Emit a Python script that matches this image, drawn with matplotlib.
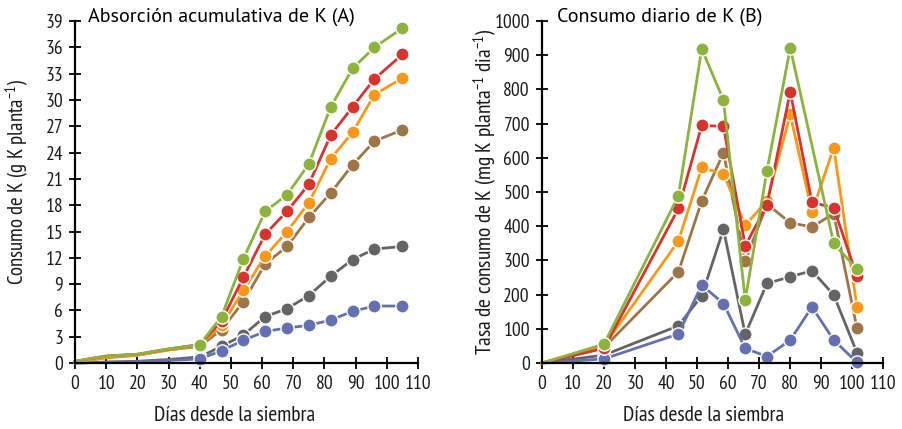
import matplotlib
matplotlib.use('Agg')
import matplotlib.pyplot as plt

# ---- Panel A data (cumulative K uptake, g K planta^-1) ----
days_a = [0, 10, 20, 30, 40, 47, 54, 61, 68, 75, 82, 89, 96, 105]
a_green = [0.2, 0.8, 1.0, 1.6, 2.1, 5.3, 11.9, 17.3, 19.2, 22.7, 29.2, 33.6, 36.0, 38.2]
a_red = [0.2, 0.8, 1.0, 1.6, 2.1, 4.8, 9.8, 14.7, 17.3, 20.4, 26.0, 29.2, 32.4, 35.2]
a_orange = [0.1, 0.6, 0.9, 1.5, 2.0, 4.3, 8.3, 12.2, 15.0, 18.3, 23.3, 26.3, 30.6, 32.5]
a_brown = [0.1, 0.6, 0.9, 1.5, 1.9, 3.8, 7.0, 11.3, 13.3, 16.6, 19.4, 22.6, 25.3, 26.6]
a_grey = [0.0, 0.1, 0.2, 0.4, 0.7, 1.9, 3.2, 5.3, 6.2, 7.7, 9.9, 11.8, 13.0, 13.3]
a_blue = [0.0, 0.1, 0.15, 0.3, 0.46, 1.4, 2.6, 3.6, 4.0, 4.3, 4.9, 5.9, 6.5, 6.5]

# ---- Panel B data (daily K uptake, mg K planta^-1 dia^-1) ----
days_b = [0, 20, 44, 51.5, 58.5, 65.5, 72.5, 80, 87, 94, 101.5]
days_b_green = [0, 20, 44, 51.5, 58.5, 65.5, 72.5, 80, 94, 101.5]
b_green = [0, 55, 489, 919, 769, 184, 562, 922, 350, 274]
b_red = [0, 43, 452, 695, 692, 343, 462, 793, 470, 454, 254]
b_orange = [0, 50, 357, 572, 553, 403, 474, 727, 442, 630, 164]
b_brown = [0, 45, 267, 474, 615, 298, 465, 410, 398, 437, 101]
b_grey = [0, 23, 109, 197, 391, 84, 233, 252, 270, 199, 30]
b_blue = [0, 12, 85, 228, 174, 43, 19, 67, 164, 67, 2]

x_ticks = list(range(0, 111, 10))
a_yticks = list(range(0, 40, 3))
b_yticks = list(range(0, 1001, 100))

C_GREEN = '#8cb33e'
C_RED = '#d6352f'
C_ORANGE = '#f7981b'
C_BROWN = '#9e7547'
C_GREY = '#646464'
C_BLUE = '#6470b2'

NARROW = ['PT Sans Narrow', 'Fira Sans Condensed', 'DejaVu Sans']
TITLE_FONT = ['PT Sans', 'Lato', 'DejaVu Sans']
TXT = '#1a1a1a'

plt.rcParams['mathtext.fontset'] = 'custom'
plt.rcParams['mathtext.rm'] = 'PT Sans Narrow'
plt.rcParams['mathtext.it'] = 'PT Sans Narrow'
plt.rcParams['mathtext.default'] = 'regular'

fig = plt.figure(figsize=(9.03, 4.29), dpi=100)
axA = fig.add_axes([0.0831, 0.1538, 0.3798, 0.797])
axB = fig.add_axes([0.6000, 0.1538, 0.3783, 0.797])

line_kw = dict(marker='o', markersize=9.5, markeredgecolor='white',
               markeredgewidth=1.0, linewidth=2.0, clip_on=False)

series_a = [(a_grey, C_GREY), (a_blue, C_BLUE), (a_brown, C_BROWN),
            (a_orange, C_ORANGE), (a_red, C_RED), (a_green, C_GREEN)]
for vals, col in series_a:
    axA.plot(days_a, vals, color=col, markevery=list(range(4, len(days_a))), **line_kw)

series_b = [(days_b, b_grey, C_GREY), (days_b, b_blue, C_BLUE), (days_b, b_brown, C_BROWN),
            (days_b, b_orange, C_ORANGE), (days_b, b_red, C_RED), (days_b_green, b_green, C_GREEN)]
for xs, vals, col in series_b:
    axB.plot(xs, vals, color=col, markevery=list(range(1, len(xs))), **line_kw)

for ax, yt, ymax in [(axA, a_yticks, 39), (axB, b_yticks, 1000)]:
    ax.set_xlim(0, 110)
    ax.set_ylim(0, ymax)
    ax.set_xticks(x_ticks)
    ax.set_yticks(yt)
    ax.spines['top'].set_visible(False)
    ax.spines['right'].set_visible(False)
    for s in ('left', 'bottom'):
        ax.spines[s].set_linewidth(1.6)
        ax.spines[s].set_color('black')
    ax.tick_params(direction='inout', length=9, width=1.3, colors='black', pad=4)
    for lab in ax.get_xticklabels() + ax.get_yticklabels():
        lab.set_family(NARROW)
        lab.set_fontsize(14)
        lab.set_color(TXT)
    ax.set_xlabel('Días desde la siembra', family=NARROW, fontsize=15.5, color=TXT)

axA.xaxis.set_label_coords(0.465, -0.125)
axB.xaxis.set_label_coords(0.474, -0.125)

axA.set_ylabel('Consumo de K (g K planta$^{-1}$)', family=NARROW, fontsize=15, color=TXT)
axB.set_ylabel('Tasa de consumo de K (mg K planta$^{-1}$ dia$^{-1}$)', family=NARROW, fontsize=15.5,
               color=TXT)
axA.yaxis.set_label_coords(-0.128, 0.53)
axB.yaxis.set_label_coords(-0.126, 0.5)

axA.text(0.038, 0.997, 'Absorción acumulativa de K (A)', transform=axA.transAxes,
         family=TITLE_FONT, fontsize=14.5, va='baseline', ha='left', color='black')
axB.text(0.044, 0.997, 'Consumo diario de K (B)', transform=axB.transAxes,
         family=TITLE_FONT, fontsize=14.5, va='baseline', ha='left', color='black')

fig.savefig('out.png', dpi=100)
